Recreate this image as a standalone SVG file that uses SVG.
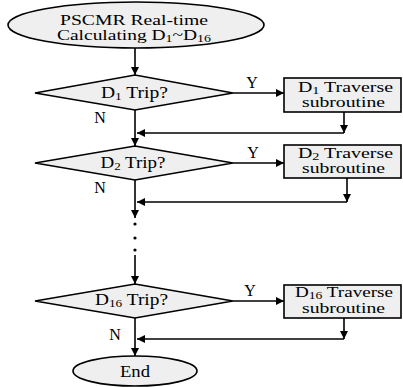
<svg xmlns="http://www.w3.org/2000/svg" width="403" height="387" viewBox="0 0 403 387">
  <style>
    .shape { fill: #efefef; stroke: #000; stroke-width: 1.6; }
    .wire { fill: none; stroke: #000; stroke-width: 1.6; marker-end: url(#arrow); }
    .txt { font-family: "Liberation Serif", "Times New Roman", serif; font-size: 16px; fill: #000; text-anchor: middle; }
    .box { font-size: 14px; }
    .lbl { font-family: "Liberation Serif", "Times New Roman", serif; font-size: 16px; fill: #000; text-anchor: middle; }
    .sub { font-size: 11px; }
    .box .sub { font-size: 10px; }
  </style>
  <defs>
    <marker id="arrow" viewBox="0 0 10 10" refX="10" refY="5" markerWidth="8" markerHeight="8" markerUnits="userSpaceOnUse" orient="auto">
      <path d="M0,0 L10,5 L0,10 z" fill="#000"/>
    </marker>
  </defs>

  <!-- start terminal -->
  <g id="start">
    <ellipse class="shape" cx="136" cy="25" rx="128" ry="23"/>
    <text class="txt box" x="134" y="25" textLength="148" lengthAdjust="spacingAndGlyphs">PSCMR Real-time</text>
    <text class="txt box" x="134" y="40" textLength="154" lengthAdjust="spacingAndGlyphs">Calculating D<tspan class="sub" dy="2">1</tspan><tspan dy="-2">~D</tspan><tspan class="sub" dy="2">16</tspan></text>
  </g>

  <!-- decision D1 -->
  <g id="trip1">
    <polygon class="shape" points="135,75 233,93 135,110 35,93"/>
    <text class="txt" x="134.5" y="98" textLength="67" lengthAdjust="spacingAndGlyphs">D<tspan class="sub" dy="2">1</tspan><tspan dy="-2"> Trip?</tspan></text>
  </g>
  <g id="traverse1">
    <rect class="shape" x="284" y="78" width="117" height="34"/>
    <text class="txt box" x="345.5" y="92" textLength="95" lengthAdjust="spacingAndGlyphs">D<tspan class="sub" dy="2">1</tspan><tspan dy="-2"> Traverse</tspan></text>
    <text class="txt box" x="343.5" y="107" textLength="83" lengthAdjust="spacingAndGlyphs">subroutine</text>
  </g>

  <!-- decision D2 -->
  <g id="trip2">
    <polygon class="shape" points="135,146 233,163 135,180 35,163"/>
    <text class="txt" x="133" y="168" textLength="65" lengthAdjust="spacingAndGlyphs">D<tspan class="sub" dy="2">2</tspan><tspan dy="-2"> Trip?</tspan></text>
  </g>
  <g id="traverse2">
    <rect class="shape" x="284" y="145" width="117" height="33"/>
    <text class="txt box" x="345.5" y="158" textLength="95" lengthAdjust="spacingAndGlyphs">D<tspan class="sub" dy="2">2</tspan><tspan dy="-2"> Traverse</tspan></text>
    <text class="txt box" x="343.5" y="173" textLength="83" lengthAdjust="spacingAndGlyphs">subroutine</text>
  </g>

  <!-- decision D16 -->
  <g id="trip16">
    <polygon class="shape" points="135,284 233,301 135,318 35,301"/>
    <text class="txt" x="131.5" y="305" textLength="73" lengthAdjust="spacingAndGlyphs">D<tspan class="sub" dy="2">16</tspan><tspan dy="-2"> Trip?</tspan></text>
  </g>
  <g id="traverse16">
    <rect class="shape" x="284" y="285" width="117" height="33"/>
    <text class="txt box" x="344" y="297" textLength="98" lengthAdjust="spacingAndGlyphs">D<tspan class="sub" dy="2">16</tspan><tspan dy="-2"> Traverse</tspan></text>
    <text class="txt box" x="343.5" y="313" textLength="83" lengthAdjust="spacingAndGlyphs">subroutine</text>
  </g>

  <!-- end terminal -->
  <g id="end">
    <ellipse class="shape" cx="135" cy="371" rx="62" ry="15"/>
    <text class="txt" x="135" y="377" textLength="30" lengthAdjust="spacingAndGlyphs">End</text>
  </g>

  <!-- connectors -->
  <g id="connectors">
    <line class="wire" x1="135" y1="48" x2="135" y2="75"/>
    <line class="wire" x1="233" y1="93" x2="284" y2="93"/>
    <line class="wire" x1="135" y1="110" x2="135" y2="146"/>
    <line class="wire" x1="344" y1="112" x2="344" y2="133"/>
    <line class="wire" x1="344" y1="133" x2="137" y2="133"/>

    <line class="wire" x1="233" y1="163" x2="284" y2="163"/>
    <line class="wire" x1="135" y1="180" x2="135" y2="218"/>
    <line class="wire" x1="347" y1="178" x2="347" y2="202"/>
    <line class="wire" x1="347" y1="202" x2="137" y2="202"/>

    <circle cx="135" cy="224" r="1.6" fill="#000"/>
    <circle cx="135" cy="238" r="1.6" fill="#000"/>
    <circle cx="135" cy="250" r="1.6" fill="#000"/>
    <line class="wire" x1="135" y1="255" x2="135" y2="284"/>

    <line class="wire" x1="233" y1="301" x2="284" y2="301"/>
    <line class="wire" x1="135" y1="318" x2="135" y2="356"/>
    <line class="wire" x1="344" y1="318" x2="344" y2="339"/>
    <line class="wire" x1="344" y1="339" x2="137" y2="339"/>

    <text class="lbl" x="252" y="88">Y</text>
    <text class="lbl" x="253" y="158">Y</text>
    <text class="lbl" x="250" y="296">Y</text>
    <text class="lbl" x="100" y="123">N</text>
    <text class="lbl" x="100" y="193">N</text>
    <text class="lbl" x="115" y="340">N</text>
  </g>
</svg>
